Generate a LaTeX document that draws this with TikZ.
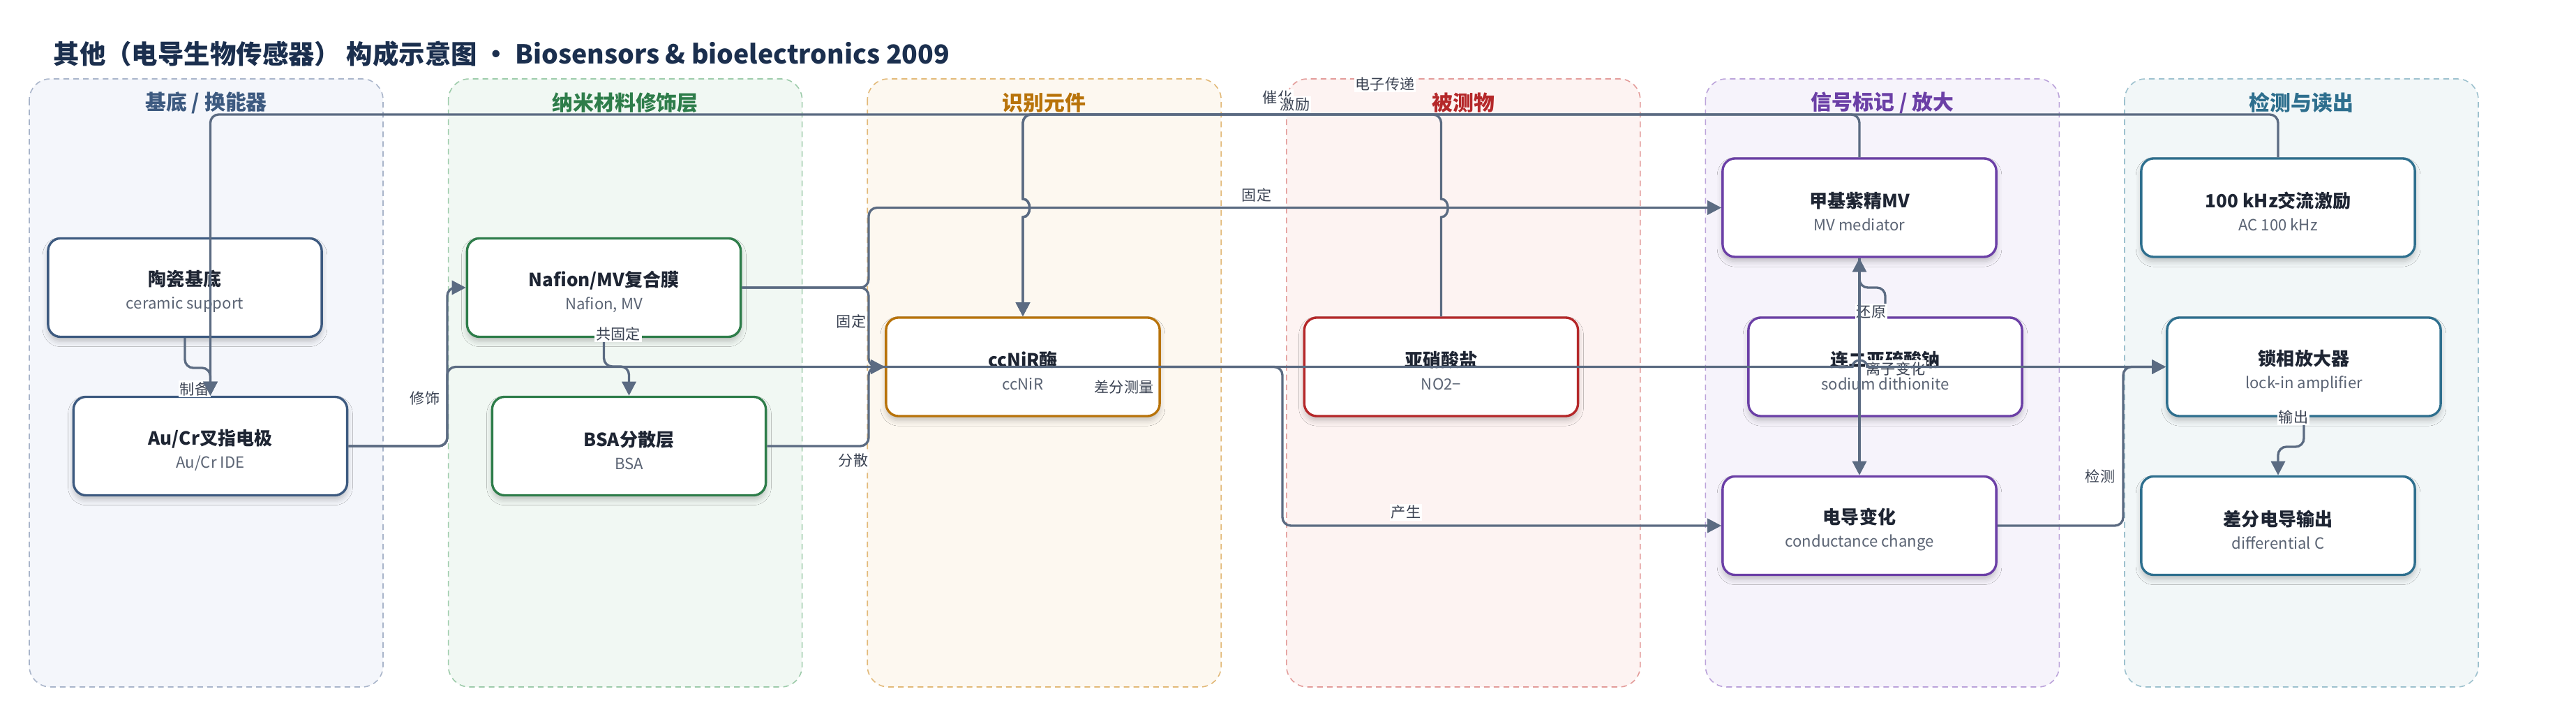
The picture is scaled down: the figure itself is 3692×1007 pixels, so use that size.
\documentclass[tikz,border=0pt]{standalone}
\usepackage{fontspec}
\setmainfont{Noto Sans CJK SC}
\usetikzlibrary{arrows.meta,shadows.blur}
\definecolor{titlec}{HTML}{1B2F4E}
\definecolor{ntc}{HTML}{1E2533}
\definecolor{subc}{HTML}{5B6474}
\definecolor{labc}{HTML}{3A4252}
\definecolor{edgec}{HTML}{5B6B82}
\definecolor{fA}{HTML}{F4F6FB}\definecolor{bA}{HTML}{A9B5CA}\definecolor{cA}{HTML}{3D5A80}
\definecolor{fB}{HTML}{F1F8F3}\definecolor{bB}{HTML}{9DCBAA}\definecolor{cB}{HTML}{2E7D4A}
\definecolor{fC}{HTML}{FDF8F0}\definecolor{bC}{HTML}{E2B978}\definecolor{cC}{HTML}{B8730A}
\definecolor{fD}{HTML}{FDF3F2}\definecolor{bD}{HTML}{E39C9A}\definecolor{cD}{HTML}{B5282A}
\definecolor{fE}{HTML}{F6F3FB}\definecolor{bE}{HTML}{BBA3DA}\definecolor{cE}{HTML}{6B3FA6}
\definecolor{fF}{HTML}{F2F7F8}\definecolor{bF}{HTML}{9DC1CE}\definecolor{cF}{HTML}{2E6F8E}
\newcommand\ntx[2]{{\fontsize{7.4}{9.3}\selectfont\bfseries\color{ntc}\rule{0pt}{9.6pt}#1}\\#2}
\begin{document}
\begin{tikzpicture}[x=0.01cm,y=-0.01cm,
  lane/.style={rounded corners=8.5pt, line width=0.45pt, dash pattern=on 2.3pt off 1.7pt},
  lanetitle/.style={font=\fontsize{8.5}{10}\selectfont\bfseries, anchor=center},
  nbox/.style={draw, fill=white, line width=0.95pt, rounded corners=5.1pt,
    minimum width=3.92cm, minimum height=1.41cm, align=center, inner sep=0pt,
    blur shadow={shadow xshift=0pt, shadow yshift=-1.8pt, shadow blur radius=2.2pt, shadow opacity=22},
    font=\fontsize{6.3}{9.3}\selectfont, text=subc},
  edge/.style={draw=edgec, line width=0.95pt, rounded corners=3.4pt, -{Triangle[length=5.7pt,width=5.7pt]}},
  elabel/.style={fill=white, inner sep=0.6pt, font=\fontsize{6}{7}\selectfont, text=labc},
]
\useasboundingbox (0,0) rectangle (3692,1007);
\fill[white] (0,0) rectangle (3692,1007);
% title
\node[anchor=west, font=\fontsize{10.64}{12}\selectfont\bfseries, text=titlec, inner sep=0pt] (title) at (76,77)
  {其他（电导生物传感器） 构成示意图 • Biosensors \& bioelectronics 2009};
% lanes
\draw[lane, fill=fA, draw=bA] (42,113) rectangle (549,984);
\draw[lane, fill=fB, draw=bB] (642.6,113) rectangle (1149.6,984);
\draw[lane, fill=fC, draw=bC] (1243.2,113) rectangle (1750.2,984);
\draw[lane, fill=fD, draw=bD] (1843.8,113) rectangle (2350.8,984);
\draw[lane, fill=fE, draw=bE] (2444.4,113) rectangle (2951.4,984);
\draw[lane, fill=fF, draw=bF] (3045,113) rectangle (3552,984);
\node[lanetitle, text=cA] (t1) at (295.5,147) {基底 / 换能器};
\node[lanetitle, text=cB] (t2) at (896.1,147) {纳米材料修饰层};
\node[lanetitle, text=cC] (t3) at (1496.7,147) {识别元件};
\node[lanetitle, text=cD] (t4) at (2097.3,147) {被测物};
\node[lanetitle, text=cE] (t5) at (2697.9,147) {信号标记 / 放大};
\node[lanetitle, text=cF] (t6) at (3298.5,147) {检测与读出};
% nodes
\node[nbox, draw=cA] (taoci) at (265,412) {\ntx{陶瓷基底}{ceramic support}};
\node[nbox, draw=cA] (aucr) at (301.5,639) {\ntx{Au/Cr叉指电极}{Au/Cr IDE}};
\node[nbox, draw=cB] (nafion) at (865.5,412) {\ntx{Nafion/MV复合膜}{Nafion, MV}};
\node[nbox, draw=cB] (bsa) at (901.5,639) {\ntx{BSA分散层}{BSA}};
\node[nbox, draw=cC] (ccnir) at (1466,525.5) {\ntx{ccNiR酶}{ccNiR}};
\node[nbox, draw=cD] (nitrite) at (2065.5,525.5) {\ntx{亚硝酸盐}{NO2−}};
\node[nbox, draw=cE] (mv) at (2665,297.5) {\ntx{甲基紫精MV}{MV mediator}};
\node[nbox, draw=cE] (dithio) at (2702,525.5) {\ntx{连二亚硫酸钠}{sodium dithionite}};
\node[nbox, draw=cE] (cond) at (2665,753) {\ntx{电导变化}{conductance change}};
\node[nbox, draw=cF] (ac) at (3265,297.5) {\ntx{100 kHz交流激励}{AC 100 kHz}};
\node[nbox, draw=cF] (lockin) at (3302,525.5) {\ntx{锁相放大器}{lock-in amplifier}};
\node[nbox, draw=cF] (diffout) at (3265,753) {\ntx{差分电导输出}{differential C}};
% edges
\node[elabel] (l1) at (279,557) {制备};
\draw[edge] (taoci.south) -- (taoci.south |- 0,527) -| (aucr.north);
\draw[edge] (ac.north) -- (ac.north |- 0,164) -| (aucr.north);
\node[elabel] (l2) at (1856,150) {激励};
\draw[edge] (mv.north) -- (mv.north |- 0,164) -- (1466,164) -- (1466,200) [sharp corners] -- (1466,285)
  .. controls (1479,285) and (1479,311) .. (1466,311) -- (ccnir.north);
\node[elabel] (l3) at (1985,120) {电子传递};
\draw[edge] (nitrite.north) [sharp corners] -- (2065.5,311) .. controls (2078.5,311) and (2078.5,285) .. (2065.5,285)
  -- (2065.5,270) [rounded corners=3.4pt] -- (2065.5,164) -- (1466,164) -- (1466,200) [sharp corners] -- (1466,285)
  .. controls (1479,285) and (1479,311) .. (1466,311) -- (ccnir.north);
\node[elabel] (l4) at (1831,140) {催化};
\node[elabel] (l2b) at (1856,150) {激励};
\draw[edge] (nafion.east) -- (1245,412) -- (1245,297.5) -- (mv.west);
\node[elabel] (l5) at (1801,279) {固定};
\draw[edge] (nafion.east) -- (1245,412) -- (1245,525.5) -- (ccnir.west);
\node[elabel] (l6) at (1220,460) {固定};
\draw[edge] (bsa.east) -- (1245,639) -- (1245,525.5) -- (ccnir.west);
\node[elabel] (l7) at (1223,660) {分散};
\draw[edge] (aucr.east) -- (641,639) -- (641,412) -- (nafion.west);
\node[elabel] (l8) at (609,570) {修饰};
\draw[edge] (nafion.south) -- (nafion.south |- 0,525) -| (bsa.north);
\node[elabel] (l9) at (886,478) {共固定};
\draw[edge] (ccnir.east) -- (1838,525.5) -- (1838,753) -- (cond.west);
\node[elabel] (l10) at (2015,734) {产生};
\draw[edge] (dithio.north) -- (dithio.north |- 0,412) -| (mv.south);
\node[elabel] (l11) at (2682,447) {还原};
\draw[edge] (mv.south) -- (cond.north);
\node[elabel] (l12) at (2717,528) {离子变化};
\draw[edge] (aucr.east) -- (641,639) -- (641,525.5) -- (2600,525.5) [sharp corners] -- (2655,525.5)
  .. controls (2655,513) and (2676,513) .. (2676,525.5) -- (lockin.west);
\node[elabel] (l13) at (1611,555) {差分测量};
\draw[edge] (cond.east) -- (3043,753) -- (3043,525.5) -- (lockin.west);
\node[elabel] (l14) at (3010,682) {检测};
\draw[edge] (lockin.south) -- (lockin.south |- 0,640) -| (diffout.north);
\node[elabel] (l15) at (3287,597) {输出};
\end{tikzpicture}
\end{document}
